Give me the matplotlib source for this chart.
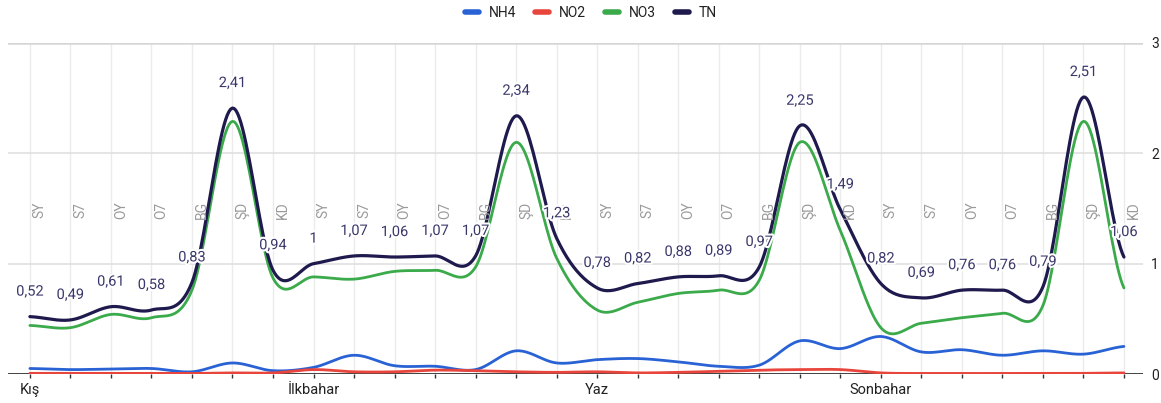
import numpy as np
import matplotlib.pyplot as plt
import matplotlib.transforms as mtransforms
import matplotlib.patheffects as pe
from matplotlib.lines import Line2D

plt.rcParams['font.family'] = ['Roboto', 'DejaVu Sans']

# --- data -------------------------------------------------------------
seasons = ["Kış", "İlkbahar", "Yaz", "Sonbahar"]
stations = ["SY", "S7", "OY", "O7", "BG", "ŞD", "KD"]

nh4 = [0.05, 0.04, 0.045, 0.05, 0.02, 0.10, 0.03,
       0.06, 0.17, 0.075, 0.07, 0.04, 0.21, 0.10,
       0.13, 0.14, 0.11, 0.07, 0.08, 0.30, 0.23,
       0.34, 0.20, 0.22, 0.17, 0.21, 0.18, 0.25]
no2 = [0.006, 0.005, 0.005, 0.006, 0.005, 0.01, 0.01,
       0.04, 0.02, 0.02, 0.035, 0.03, 0.02, 0.015,
       0.02, 0.01, 0.015, 0.025, 0.035, 0.04, 0.04,
       0.01, 0.005, 0.005, 0.005, 0.005, 0.006, 0.01]
no3 = [0.44, 0.42, 0.54, 0.51, 0.76, 2.29, 0.87,
       0.88, 0.86, 0.93, 0.94, 0.97, 2.10, 1.05,
       0.58, 0.65, 0.73, 0.76, 0.85, 2.10, 1.30,
       0.42, 0.46, 0.51, 0.55, 0.62, 2.29, 0.78]
tn = [0.52, 0.49, 0.61, 0.58, 0.83, 2.41, 0.94,
      1.00, 1.07, 1.06, 1.07, 1.07, 2.34, 1.23,
      0.78, 0.82, 0.88, 0.89, 0.97, 2.25, 1.49,
      0.82, 0.69, 0.76, 0.76, 0.79, 2.51, 1.06]

series = [("NH4", nh4, "#2962d4"), ("NO2", no2, "#e8453c"),
          ("NO3", no3, "#3aaa4a"), ("TN", tn, "#1e1a4d")]


def smooth(y, n=24):
    # catmull-rom curve through the points (like a "function" curve)
    y = np.asarray(y, dtype=float)
    yp = np.concatenate([[y[0]], y, [y[-1]]])
    xs, ys = [], []
    t = np.linspace(0, 1, n, endpoint=False)
    h00 = 2 * t**3 - 3 * t**2 + 1
    h10 = t**3 - 2 * t**2 + t
    h01 = -2 * t**3 + 3 * t**2
    h11 = t**3 - t**2
    for i in range(len(y) - 1):
        m0 = (yp[i + 2] - yp[i]) / 2
        m1 = (yp[i + 3] - yp[i + 1]) / 2
        xs.append(i + t)
        ys.append(h00 * y[i] + h10 * m0 + h01 * y[i + 1] + h11 * m1)
    xs.append([len(y) - 1])
    ys.append([y[-1]])
    return np.concatenate(xs), np.concatenate(ys)


fig = plt.figure(figsize=(11.61, 4.03), dpi=100)
ax = fig.add_axes([8 / 1161, 29 / 403, 1135 / 1161, 331 / 403])

n = len(tn)
x = np.arange(n)
ax.set_xlim(-0.54, n - 1 + 0.47)
ax.set_ylim(0, 3)

# grid
for xi in x:
    ax.axvline(xi, color="#ebebeb", lw=1, zorder=0)
for yv in (1, 2):
    ax.axhline(yv, color="#e0e0e0", lw=1.2, zorder=0)
ax.axhline(3, color="#d6d6d6", lw=1.8, zorder=0)
ax.axhline(0, color="#333333", lw=1.3, zorder=3)

for name, vals, col in series:
    sx, sy = smooth(vals)
    lw = 2.3 if name == "TN" else 2.0
    ax.plot(sx, sy, color=col, lw=lw, zorder=4, solid_capstyle="round")

# station labels (rotated, mid chart)
trans = mtransforms.blended_transform_factory(ax.transData, ax.transAxes)
offs = mtransforms.offset_copy(trans, fig=fig, x=10, y=0, units="dots")
for i in x:
    ax.text(i, 0.495, stations[i % 7], rotation=90, ha="center", va="center",
            fontsize=10, color="#9a9a9a", transform=offs, zorder=5)

# TN value labels
for i, v in enumerate(tn):
    s = f"{v:.2f}".rstrip("0").rstrip(".").replace(".", ",")
    ax.annotate(s, (i, v), xytext=(0, 18), textcoords="offset points",
                ha="center", va="center", fontsize=10.5, color="#3a376b", zorder=6,
                path_effects=[pe.withStroke(linewidth=3, foreground="white")])

# season labels
for k, s in enumerate(seasons):
    ax.text(k * 7, -0.048, s, ha="center", va="center", fontsize=10.5,
            color="#222222", transform=trans)

ax.set_xticks(x)
ax.set_xticklabels([])
ax.tick_params(axis="x", length=3, width=1, color="#333333", direction="out")
ax.yaxis.tick_right()
ax.set_yticks([0, 1, 2, 3])
ax.set_yticklabels(["0", "1", "2", "3"])
ax.tick_params(axis="y", length=0, pad=6, labelsize=10, labelcolor="#222222")
for sp in ax.spines.values():
    sp.set_visible(False)

handles = [Line2D([0], [0], color=c, lw=4, solid_capstyle="round") for _, _, c in series]
fig.legend(handles, [s[0] for s in series], loc="center", bbox_to_anchor=(591 / 1161, 1 - 13 / 403),
           ncol=4, frameon=False, fontsize=10, handlelength=1.0, handletextpad=0.7,
           columnspacing=1.4, labelcolor="#222222")

fig.savefig("out.png", dpi=100)
